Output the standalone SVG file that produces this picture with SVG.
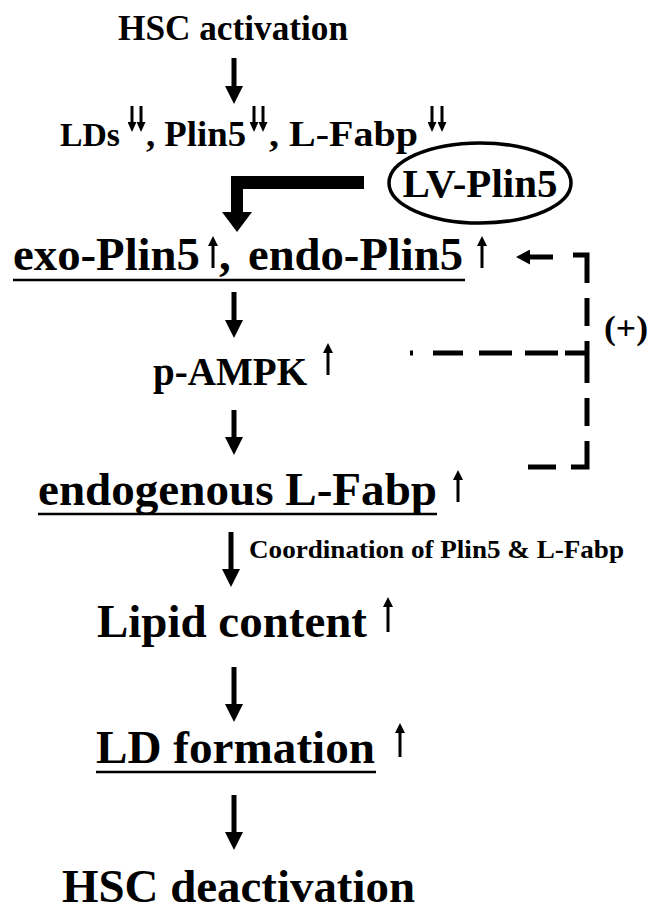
<svg xmlns="http://www.w3.org/2000/svg" width="650" height="911" viewBox="0 0 650 911">
<style>
text{font-family:"Liberation Serif","Times New Roman",Tinos,serif;font-weight:bold;fill:#000}
.ar{stroke:#000;stroke-width:5;fill:none}
.up{stroke:#000;stroke-width:3;fill:none}
.dd{stroke:#000;stroke-width:3;fill:none}
.ul{stroke:#000;stroke-width:2.5}
.dash{stroke:#000;stroke-width:5;fill:none}
</style>
<defs>
<marker id="h" markerUnits="userSpaceOnUse" markerWidth="18" markerHeight="18" viewBox="0 0 18 18" refX="0" refY="9" orient="auto"><path d="M0,0 L18,9 L0,18 Z" fill="#000"/></marker>
<marker id="hl" markerUnits="userSpaceOnUse" markerWidth="14" markerHeight="15" viewBox="0 0 14 15" refX="0" refY="7.5" orient="auto"><path d="M0,0 L14,7.5 L0,15 Z" fill="#000"/></marker>
<marker id="hs" markerUnits="userSpaceOnUse" markerWidth="10" markerHeight="10" viewBox="0 0 10 10" refX="0" refY="5" orient="auto"><path d="M0,0 L10,5 L0,10 Z" fill="#000"/></marker>
<marker id="hd" markerUnits="userSpaceOnUse" markerWidth="10" markerHeight="9" viewBox="0 0 10 9" refX="0" refY="4.5" orient="auto"><path d="M0,0 L10,4.5 L0,9 Z" fill="#000"/></marker>
</defs>

<g id="hsc-activation"><text x="118" y="40" font-size="35" textLength="230" lengthAdjust="spacingAndGlyphs">HSC activation</text></g>

<g id="decrease-line">
<text x="60" y="146" font-size="34" textLength="60" lengthAdjust="spacingAndGlyphs">LDs</text>
<path class="dd" d="M132,106 V122" marker-end="url(#hd)"/>
<path class="dd" d="M141,106 V122" marker-end="url(#hd)"/>
<text x="146" y="146" font-size="36" textLength="100" lengthAdjust="spacingAndGlyphs">, Plin5</text>
<path class="dd" d="M254,106 V122" marker-end="url(#hd)"/>
<path class="dd" d="M263,106 V122" marker-end="url(#hd)"/>
<text x="269" y="146" font-size="36" textLength="149" lengthAdjust="spacingAndGlyphs">, L-Fabp</text>
<path class="dd" d="M432,106 V122" marker-end="url(#hd)"/>
<path class="dd" d="M442,106 V122" marker-end="url(#hd)"/>
</g>

<g id="lv-plin5">
<ellipse cx="480" cy="183" rx="91" ry="40" fill="none" stroke="#000" stroke-width="3.5"/>
<text x="480" y="197" font-size="41" text-anchor="middle">LV-Plin5</text>
</g>

<g id="plin5-row">
<text x="13" y="270" font-size="47" textLength="187" lengthAdjust="spacingAndGlyphs">exo-Plin5</text>
<path class="up" d="M213,268 V246" marker-end="url(#hs)"/>
<text x="219" y="270" font-size="47">,</text>
<text x="248" y="270" font-size="47" textLength="215" lengthAdjust="spacingAndGlyphs">endo-Plin5</text>
<path class="up" d="M482,268 V246" marker-end="url(#hs)"/>
<line class="ul" x1="13" y1="280" x2="465" y2="280"/>
</g>

<g id="p-ampk">
<text x="153" y="385" font-size="39" textLength="154" lengthAdjust="spacingAndGlyphs">p-AMPK</text>
<path class="up" d="M328,375 V353" marker-end="url(#hs)"/>
</g>

<g id="endogenous-lfabp">
<text x="38" y="505" font-size="47" textLength="399" lengthAdjust="spacingAndGlyphs">endogenous L-Fabp</text>
<line class="ul" x1="38" y1="514" x2="437" y2="514"/>
<path class="up" d="M458,502 V480" marker-end="url(#hs)"/>
</g>

<g id="lipid-content">
<text x="97" y="637" font-size="47" textLength="270" lengthAdjust="spacingAndGlyphs">Lipid content</text>
<path class="up" d="M388,632 V607" marker-end="url(#hs)"/>
</g>

<g id="ld-formation">
<text x="96" y="763" font-size="47" textLength="279" lengthAdjust="spacingAndGlyphs">LD formation</text>
<line class="ul" x1="96" y1="772" x2="376" y2="772"/>
<path class="up" d="M400,757 V733" marker-end="url(#hs)"/>
</g>

<g id="hsc-deactivation"><text x="62" y="902" font-size="47" textLength="353" lengthAdjust="spacingAndGlyphs">HSC deactivation</text></g>

<g id="connectors">
<line class="ar" x1="234" y1="58" x2="234" y2="86" marker-end="url(#h)"/>
<path d="M364,176 H231 V212 H222 L237,232 L252,212 H243 V189 H364 Z" fill="#000"/>
<line class="ar" x1="234" y1="292" x2="234" y2="320" marker-end="url(#h)"/>
<line class="ar" x1="234" y1="410" x2="234" y2="437" marker-end="url(#h)"/>
<line class="ar" x1="231" y1="532" x2="231" y2="569" marker-end="url(#h)"/>
<text x="249" y="558" font-size="25" textLength="375" lengthAdjust="spacingAndGlyphs">Coordination of Plin5 &amp; L-Fabp</text>
<line class="ar" x1="234" y1="667" x2="234" y2="704" marker-end="url(#h)"/>
<line class="ar" x1="234" y1="795" x2="234" y2="832" marker-end="url(#h)"/>
<path class="dash" d="M573,255 H587 V467 H523" stroke-dasharray="42 15 28 15"/>
<path class="dash" d="M410,353 H587" stroke-dasharray="3 20 30 16 33 13 33 7 22"/>
<line x1="553" y1="257" x2="530" y2="257" stroke="#000" stroke-width="5" marker-end="url(#hl)"/>
<text x="604" y="339" font-size="34" textLength="44" lengthAdjust="spacingAndGlyphs">(+)</text>
</g>
</svg>
